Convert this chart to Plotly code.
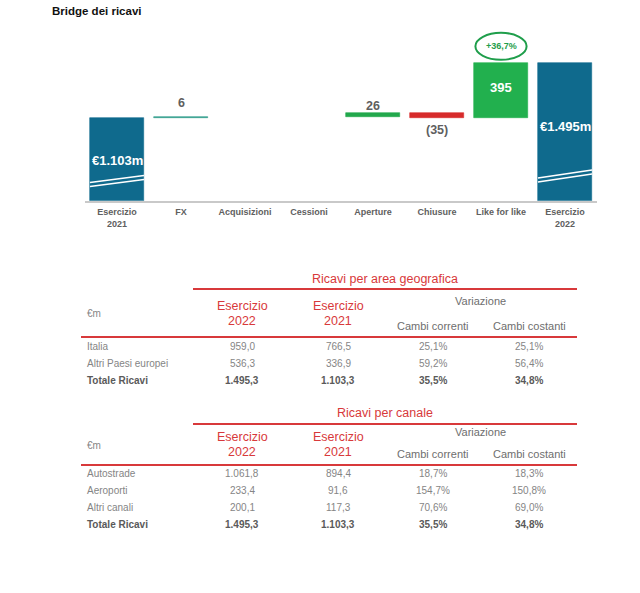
import plotly.graph_objects as go

W, H = 640, 593
PAGE_MARGIN = 0   # body margin removed with post_script below

# ---------------- Data: bridge ----------------
categories = ["Esercizio<br>2021", "FX", "Acquisizioni", "Cessioni", "Aperture",
              "Chiusure", "Like for like", "Esercizio<br>2022"]
bridge_values = [1103, 6, 0, 0, 26, -35, 395, 1495]
bridge_kinds = ["total", "delta", "delta", "delta", "delta", "delta", "delta", "total"]
value_labels = ["€1.103m", "6", "", "", "26", "(35)", "395", "€1.495m"]
lfl_growth_label = "+36,7%"

# ---------------- Data: table 1 ----------------
geo_title = "Ricavi per area geografica"
geo_rows = ["Italia", "Altri Paesi europei", "Totale Ricavi"]
geo_2022 = ["959,0", "536,3", "1.495,3"]
geo_2021 = ["766,5", "336,9", "1.103,3"]
geo_var_correnti = ["25,1%", "59,2%", "35,5%"]
geo_var_costanti = ["25,1%", "56,4%", "34,8%"]

# ---------------- Data: table 2 ----------------
ch_title = "Ricavi per canale"
ch_rows = ["Autostrade", "Aeroporti", "Altri canali", "Totale Ricavi"]
ch_2022 = ["1.061,8", "233,4", "200,1", "1.495,3"]
ch_2021 = ["894,4", "91,6", "117,3", "1.103,3"]
ch_var_correnti = ["18,7%", "154,7%", "70,6%", "35,5%"]
ch_var_costanti = ["18,3%", "150,8%", "69,0%", "34,8%"]

col_headers_years = ["Esercizio 2022", "Esercizio 2021"]
col_header_var = "Variazione"
col_headers_var = ["Cambi correnti", "Cambi costanti"]
unit_label = "€m"
chart_title = "Bridge dei ricavi"

# ---------------- Styles ----------------
TEAL = "#0F6A8D"
bar_colors = [TEAL, "#2E9C8A", "#21A84D", "#21A84D", "#22A84C", "#D72B2B", "#22B04E", TEAL]
RED = "#D8393B"
GRAY_TXT = "#858585"
DARK_TXT = "#5A5A5A"
FONT = "Liberation Sans, Arial, sans-serif"

# plot geometry (screen pixels)
X_LEFT, X_RIGHT = 85, 597
Y_BASE_PX, Y_TOP_PX = 200.7, 20
Y_MIN = 505
K = 7.206                 # value units per pixel
Y_MAX = Y_MIN + (Y_BASE_PX - Y_TOP_PX) * K


def px_x(p):
    return (p - PAGE_MARGIN) / W


def px_y(p):
    return 1 - (p - PAGE_MARGIN) / H


# compute bases
bases, heights = [], []
running = 0
for v, kind in zip(bridge_values, bridge_kinds):
    if kind == "total":
        bases.append(0)
        heights.append(v)
        running = v
    else:
        bases.append(running)
        heights.append(v if v != 0 else None)
        running += v

fig = go.Figure()
fig.add_trace(go.Bar(
    x=list(range(len(categories))), y=heights, base=bases,
    marker=dict(color=bar_colors, line=dict(color=bar_colors, width=0.6)),
    width=0.845, hoverinfo="skip", showlegend=False,
))

annotations = []
shapes = []

# value labels
label_offsets = [-42.3, 14.2, 0, 0, 7.5, -11.7, 3, -62.7]
label_styles = ["white", "gray", "gray", "gray", "gray", "gray", "white", "white"]
for i, (lab, kind) in enumerate(zip(value_labels, bridge_kinds)):
    if not lab:
        continue
    b, h = bases[i], heights[i]
    if kind == "total":
        yref_val = h
    elif i == 6:
        yref_val = b + h / 2
    else:
        yref_val = b + h
    white = label_styles[i] == "white"
    annotations.append(dict(
        x=i, y=yref_val, xref="x", yref="y", text=f"<b>{lab}</b>", showarrow=False,
        yshift=label_offsets[i], xanchor="center", yanchor="middle",
        font=dict(family=FONT, size=13 if white else 12.5,
                  color="white" if white else "#5F5F5F"),
    ))

# ellipse around LFL growth
lfl_i = 6
lfl_top = bases[lfl_i] + heights[lfl_i]
ell_cy = lfl_top + 17 * K
ell_hh = 13.5 * K
shapes.append(dict(type="circle", xref="x", yref="y",
                   x0=lfl_i - 0.40, x1=lfl_i + 0.40,
                   y0=ell_cy - ell_hh, y1=ell_cy + ell_hh,
                   line=dict(color="#1F9E4B", width=2), fillcolor="rgba(0,0,0,0)"))
annotations.append(dict(x=lfl_i, y=ell_cy, xref="x", yref="y",
                        text=f"<b>{lfl_growth_label}</b>", showarrow=False,
                        font=dict(family=FONT, size=9, color="#1F9E4B")))

# break marks on total bars (pixel heights above baseline)
breaks = {0: [(18.2, 25.2), (14.2, 21.2)], 7: [(22.7, 30.7), (18.7, 26.7)]}
for i, pairs in breaks.items():
    for (l_px, r_px) in pairs:
        shapes.append(dict(type="line", xref="x", yref="y",
                           x0=i - 0.4225, x1=i + 0.4225,
                           y0=Y_MIN + l_px * K, y1=Y_MIN + r_px * K,
                           line=dict(color="white", width=1.6)))

# chart title
annotations.append(dict(x=px_x(50), y=px_y(11), xref="paper", yref="paper",
                        text=f"<b>{chart_title}</b>", showarrow=False,
                        xanchor="left", yanchor="middle",
                        font=dict(family=FONT, size=11.5, color="#111111")))

# ---------------- tables ----------------
COLS = [242, 338, 433, 529]


def text(xp, yp, t, size, color, anchor="center", bold=False):
    annotations.append(dict(x=px_x(xp), y=px_y(yp), xref="paper", yref="paper",
                            text=f"<b>{t}</b>" if bold else t, showarrow=False,
                            xanchor=anchor, yanchor="middle",
                            font=dict(family=FONT, size=size, color=color)))


def hline(x0, x1, yp, color, width):
    shapes.append(dict(type="line", xref="paper", yref="paper",
                       x0=px_x(x0), x1=px_x(x1), y0=px_y(yp), y1=px_y(yp),
                       line=dict(color=color, width=width)))


def table(title, rows, c1, c2, c3, c4, g):
    text(385, g["title"], title, 12.5, RED)
    hline(193, 577, g["line1"], RED, 1.8)
    text(85, g["unit"], unit_label, 10, GRAY_TXT, anchor="left")
    for j, hdr in enumerate(col_headers_years):
        w1, w2 = hdr.split(" ")
        text(COLS[j], g["esc"], w1, 12.5, RED)
        text(COLS[j], g["year"], w2, 12.5, RED)
    text(480, g["var"], col_header_var, 11, "#6E6E6E")
    for j, hdr in enumerate(col_headers_var):
        text(COLS[2 + j], g["cambi"], hdr, 11, "#6E6E6E")
    hline(81, 577, g["line2"], RED, 1.8)
    for r, name in enumerate(rows):
        yp = g["rows"][r]
        bold = name.startswith("Totale")
        col = DARK_TXT if bold else GRAY_TXT
        text(85, yp, name, 10, col, anchor="left", bold=bold)
        for j, vals in enumerate([c1, c2, c3, c4]):
            text(COLS[j], yp, vals[r], 10, col, bold=bold)


table(geo_title, geo_rows, geo_2022, geo_2021, geo_var_correnti, geo_var_costanti,
      dict(title=279, line1=289, unit=313, esc=306, year=321, var=301, cambi=326,
           line2=337, rows=[346, 363, 380]))
table(ch_title, ch_rows, ch_2022, ch_2021, ch_var_correnti, ch_var_costanti,
      dict(title=413, line1=424, unit=445, esc=437, year=452, var=432, cambi=454,
           line2=465, rows=[473, 490, 507, 524]))

fig.update_layout(
    width=W, height=H,
    margin=dict(l=0, r=0, t=0, b=0),
    paper_bgcolor="white", plot_bgcolor="white",
    bargap=0, showlegend=False, hovermode=False,
    xaxis=dict(domain=[px_x(X_LEFT), px_x(X_RIGHT)], range=[-0.5, 7.5],
               tickmode="array", tickvals=list(range(len(categories))),
               ticktext=[f"<b>{c}</b>" for c in categories],
               tickfont=dict(family=FONT, size=9, color="#606060"),
               ticklabelstandoff=2,
               showline=True, linecolor="#C9C9C9", linewidth=1.5,
               showgrid=False, zeroline=False, ticks="", fixedrange=True),
    yaxis=dict(domain=[px_y(Y_BASE_PX), px_y(Y_TOP_PX)], range=[Y_MIN, Y_MAX],
               visible=False, showgrid=False, zeroline=False, fixedrange=True),
    annotations=annotations, shapes=shapes,
)

fig.write_html("out.html", config={"displayModeBar": False},
               post_script="document.body.style.margin='0';")
